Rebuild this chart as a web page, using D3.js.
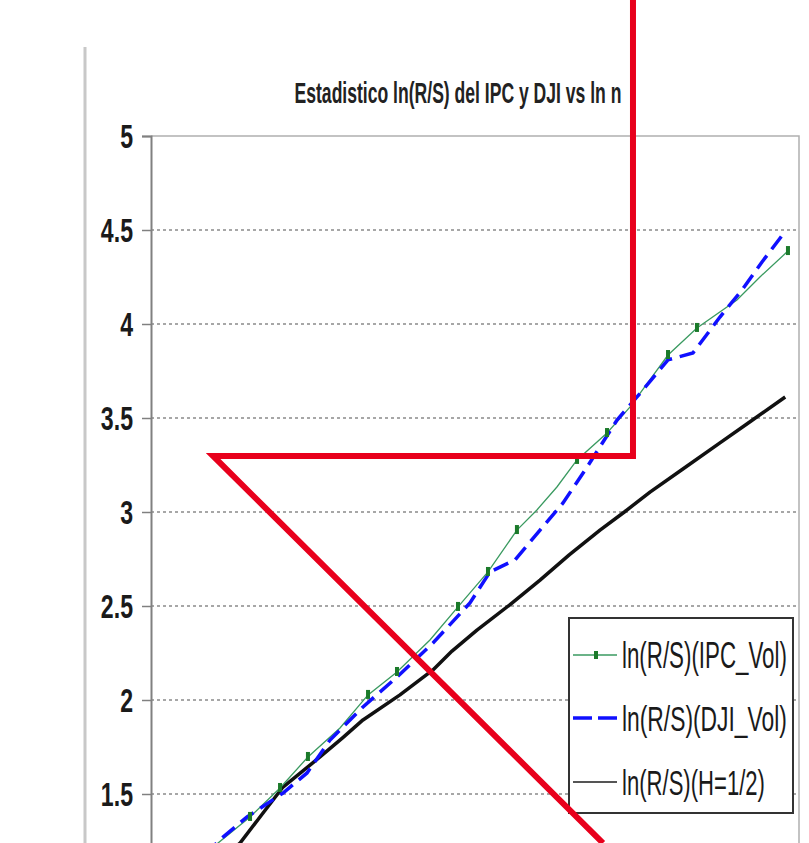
<!DOCTYPE html>
<html>
<head>
<meta charset="utf-8">
<script src="https://cdn.jsdelivr.net/npm/d3@7/dist/d3.min.js"></script>
<style>
  html, body { margin: 0; padding: 0; background: #fff; }
  svg { display: block; }
</style>
</head>
<body>
<div id="chart"></div>
<script>
// title + axis
const title = "Estadistico ln(R/S) del IPC y DJI vs ln n";
const yTicks = [1.5, 2, 2.5, 3, 3.5, 4, 4.5, 5];
const yTickLabels = ["1.5", "2", "2.5", "3", "3.5", "4", "4.5", "5"];

// ln(R/S) IPC_Vol (green, with markers)
const ipcLnN = [1.90, 2.063, 2.342, 2.603, 2.846, 3.125, 3.369, 3.621, 3.908, 4.152, 4.413, 4.665, 4.839, 5.013, 5.188, 5.449, 5.650, 5.980, 6.232, 6.580, 6.780, 7.024];
const ipcVal = [1.15, 1.239, 1.378, 1.532, 1.697, 1.851, 2.027, 2.149, 2.319, 2.495, 2.681, 2.904, 3.011, 3.133, 3.277, 3.420, 3.559, 3.835, 3.979, 4.128, 4.250, 4.388];
const ipcMark = [0, 0, 1, 1, 1, 0, 1, 1, 0, 1, 1, 1, 0, 0, 1, 1, 0, 1, 1, 0, 0, 1];

// ln(R/S) DJI_Vol (blue dashed)
const djiLnN = [1.95, 2.107, 2.316, 2.629, 2.838, 3.038, 3.325, 3.621, 3.934, 4.256, 4.430, 4.648, 4.866, 5.066, 5.275, 5.536, 5.710, 5.980, 6.197, 6.432, 6.624, 6.798, 6.989];
const djiVal = [1.18, 1.271, 1.378, 1.505, 1.612, 1.787, 1.963, 2.122, 2.303, 2.516, 2.681, 2.745, 2.904, 3.048, 3.239, 3.489, 3.612, 3.809, 3.846, 4.037, 4.181, 4.330, 4.484];

// ln(R/S) H=1/2 (black)
const halfLnN = [2.00, 2.255, 2.45, 2.629, 2.951, 3.15, 3.325, 3.647, 3.934, 4.10, 4.317, 4.60, 4.866, 5.12, 5.388, 5.60, 5.823, 6.10, 6.432, 6.70, 7.000];
const halfVal = [1.11, 1.239, 1.395, 1.537, 1.697, 1.800, 1.894, 2.027, 2.160, 2.260, 2.372, 2.505, 2.638, 2.772, 2.904, 3.000, 3.106, 3.225, 3.368, 3.483, 3.612];

const legendLabels = ["ln(R/S)(IPC_Vol)", "ln(R/S)(DJI_Vol)", "ln(R/S)(H=1/2)"];

// red annotation drawn over the picture, in data units
const markLnN = [5.675, 5.675, 2.02, 5.414];
const markVal = [5.723, 3.298, 3.298, 1.239];

const W = 809, H = 843;
const plot = {left: 151, right: 799, top: 136, bottom: 888};

const svg = d3.select("#chart").append("svg")
    .attr("width", W)
    .attr("height", H)
    .style("font-family", "'Liberation Sans', Arial, sans-serif");

const x = d3.scaleLinear().domain([1.48, 7.12]).range([plot.left, plot.right]);
const y = d3.scaleLinear().domain([1, 5]).range([plot.bottom, plot.top]);

// squeeze a text horizontally to a given width
function squeeze(sel, width, anchorX, baseY) {
    sel.each(function () {
        let len = this.getComputedTextLength();
        let k = width / len;
        d3.select(this).attr("transform", `translate(${anchorX},${baseY}) scale(${k},1)`);
    });
}

// gray page edge on the left
svg.append("line")
    .attr("x1", 85).attr("x2", 85)
    .attr("y1", 47).attr("y2", H)
    .attr("stroke", "#c8c8c8")
    .attr("stroke-width", 3);

// title
svg.append("text")
    .attr("text-anchor", "middle")
    .attr("font-size", 29)
    .attr("font-weight", "bold")
    .attr("fill", "#222")
    .text(title)
    .call(squeeze, 327, 458, 103);

// grid
svg.append("g")
    .selectAll("line")
    .data(yTicks.filter(d => d < 5))
    .join("line")
    .attr("x1", plot.left).attr("x2", plot.right)
    .attr("y1", d => y(d)).attr("y2", d => y(d))
    .attr("stroke", "#8a8a8a")
    .attr("stroke-width", 1.5)
    .attr("stroke-dasharray", "3,3");

// frame top + right
svg.append("path")
    .attr("d", `M${plot.left},${y(5)}H${plot.right}V${H}`)
    .attr("fill", "none")
    .attr("stroke", "#b0b0b0")
    .attr("stroke-width", 1.5);

// y axis
const yAxis = d3.axisLeft(y)
    .tickValues(yTicks)
    .tickSize(9)
    .tickFormat("");
const ya = svg.append("g")
    .attr("transform", `translate(${plot.left},0)`)
    .call(yAxis);
ya.select(".domain").attr("stroke", "#808080").attr("stroke-width", 2);
ya.selectAll(".tick line").attr("stroke", "#808080").attr("stroke-width", 1.5);

svg.append("g")
    .selectAll("text")
    .data(yTicks)
    .join("text")
    .attr("transform", d => `translate(133,${y(d) + 12}) scale(0.68,1)`)
    .attr("text-anchor", "end")
    .attr("font-size", 34)
    .attr("font-weight", "bold")
    .attr("fill", "#1a1a1a")
    .text((d, i) => yTickLabels[i]);

// series
svg.append("clipPath").attr("id", "plot-clip")
    .append("rect")
    .attr("x", plot.left).attr("y", plot.top)
    .attr("width", plot.right - plot.left)
    .attr("height", plot.bottom - plot.top);

const area = svg.append("g").attr("clip-path", "url(#plot-clip)");
const line = d3.line().x(d => x(d[0])).y(d => y(d[1]));

const half = halfLnN.map((d, i) => [d, halfVal[i]]);
const ipc = ipcLnN.map((d, i) => [d, ipcVal[i], ipcMark[i]]);
const dji = djiLnN.map((d, i) => [d, djiVal[i]]);

area.append("path")
    .attr("d", line(half))
    .attr("fill", "none")
    .attr("stroke", "#111")
    .attr("stroke-width", 3.5)
    .attr("stroke-linejoin", "round");

area.append("path")
    .attr("d", line(ipc))
    .attr("fill", "none")
    .attr("stroke", "#3a9a60")
    .attr("stroke-width", 1.3);

area.append("path")
    .attr("d", line(dji))
    .attr("fill", "none")
    .attr("stroke", "#1010ff")
    .attr("stroke-width", 3.5)
    .attr("stroke-dasharray", "16,8");

area.selectAll("rect.mk")
    .data(ipc.filter(d => d[2]))
    .join("rect")
    .attr("class", "mk")
    .attr("x", d => x(d[0]) - 2)
    .attr("y", d => y(d[1]) - 5)
    .attr("width", 4)
    .attr("height", 9)
    .attr("fill", "#1b7a2a");

// legend
const lg = svg.append("g").attr("transform", "translate(569,618)");
lg.append("rect")
    .attr("width", 224).attr("height", 195)
    .attr("fill", "#fff")
    .attr("stroke", "#333")
    .attr("stroke-width", 2);

const rows = [37, 100, 164];
const widths = [165, 165, 143];
const sample = lg.selectAll("g.row")
    .data(legendLabels)
    .join("g")
    .attr("class", "row")
    .attr("transform", (d, i) => `translate(0,${rows[i]})`);

sample.append("line")
    .attr("x1", 4).attr("x2", 48)
    .attr("stroke", (d, i) => ["#3a9a60", "#1010ff", "#555"][i])
    .attr("stroke-width", (d, i) => [1.5, 3.5, 2][i])
    .attr("stroke-dasharray", (d, i) => i === 1 ? "19,6" : null);

lg.append("rect")
    .attr("x", 25).attr("y", rows[0] - 4)
    .attr("width", 4).attr("height", 8)
    .attr("fill", "#1b7a2a");

sample.append("text")
    .attr("font-size", 36)
    .attr("fill", "#1a1a1a")
    .text(d => d)
    .each(function (d, i) {
        d3.select(this).call(squeeze, widths[i], 53, 13);
    });

// red overlay
svg.append("path")
    .attr("d", line(markLnN.map((d, i) => [d, markVal[i]])))
    .attr("fill", "none")
    .attr("stroke", "#e8001c")
    .attr("stroke-width", 6)
    .attr("stroke-linejoin", "miter");
</script>
</body>
</html>
